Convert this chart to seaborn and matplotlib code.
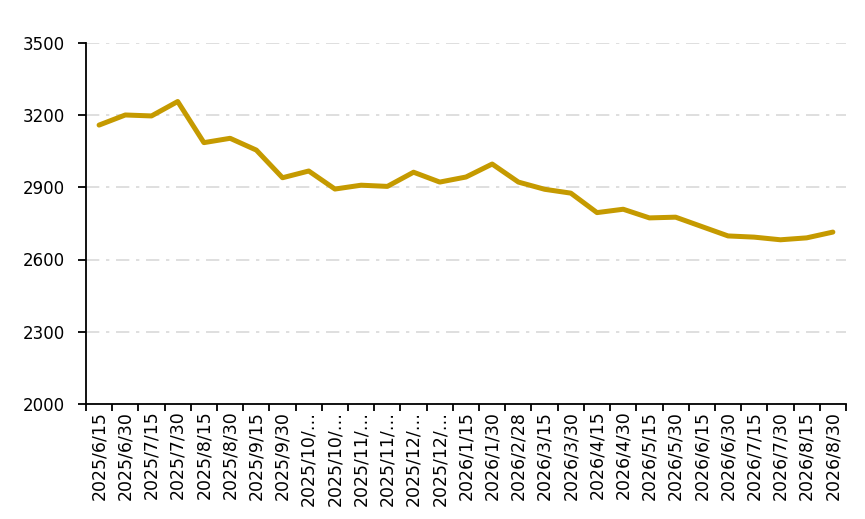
import matplotlib
matplotlib.use("Agg")
import matplotlib.pyplot as plt
import numpy as np
import pandas as pd
import seaborn as sns

dates = ["2025/6/15", "2025/6/30", "2025/7/15", "2025/7/30", "2025/8/15", "2025/8/30",
         "2025/9/15", "2025/9/30", "2025/10/…", "2025/10/…", "2025/11/…", "2025/11/…",
         "2025/12/…", "2025/12/…", "2026/1/15", "2026/1/30", "2026/2/28", "2026/3/15",
         "2026/3/30", "2026/4/15", "2026/4/30", "2026/5/15", "2026/5/30", "2026/6/15",
         "2026/6/30", "2026/7/15", "2026/7/30", "2026/8/15", "2026/8/30"]
prices = [3159, 3201, 3197, 3257, 3086, 3104, 3055, 2940, 2968, 2893, 2909, 2904,
          2963, 2922, 2943, 2997, 2922, 2892, 2876, 2795, 2809, 2773, 2776, 2737,
          2698, 2693, 2682, 2690, 2714]
yticks = [2000, 2300, 2600, 2900, 3200, 3500]

sns.set_style("white")
plt.rcParams["font.family"] = ["DejaVu Sans"]

df = pd.DataFrame({"pos": np.arange(len(dates)), "price": prices})

fig = plt.figure(figsize=(8.65, 5.19), dpi=100)
ax = fig.add_axes([0.0994, 0.222, 0.8786, 0.695])
sns.lineplot(data=df, x="pos", y="price", color="#C59A00", linewidth=3.6, ax=ax)

ax.set_ylim(2000, 3500)
ax.set_yticks(yticks)
ax.set_yticklabels([str(v) for v in yticks], fontsize=12, color="black")
ax.set_xlim(-0.5, len(dates) - 0.5)
ax.set_xticks(np.arange(len(dates)))
ax.set_xticklabels(dates, rotation=90, fontsize=12.5, color="black")
ax.set_xticks(np.arange(len(dates) + 1) - 0.5, minor=True)
ax.tick_params(axis="x", which="major", bottom=True, length=0, pad=5)
ax.tick_params(axis="x", which="minor", bottom=True, length=5, width=1.3,
               color="black", direction="out")
ax.tick_params(axis="y", left=True, length=6, width=1.3, color="black",
               direction="out", pad=9)

ax.grid(axis="y", color="#D9D9D9", linestyle=(0, (8, 4, 2, 4)), linewidth=1.2)
ax.set_axisbelow(True)
for s in ["top", "right"]:
    ax.spines[s].set_visible(False)
for s in ["left", "bottom"]:
    ax.spines[s].set_color("black")
    ax.spines[s].set_linewidth(1.3)
ax.set_xlabel("")
ax.set_ylabel("")

fig.savefig("out.png", dpi=100)
